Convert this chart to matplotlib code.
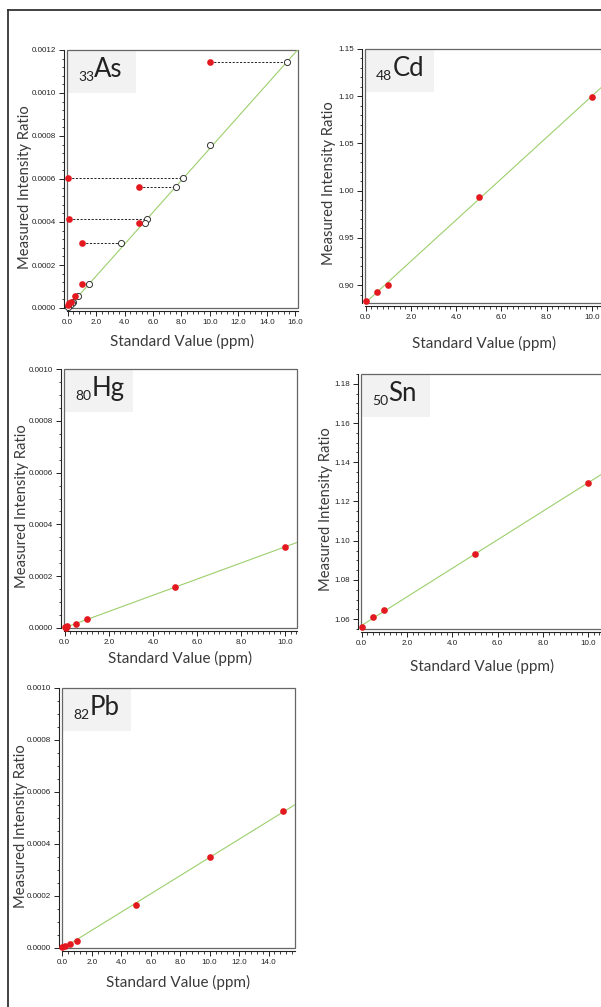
import matplotlib
matplotlib.use("Agg")
import matplotlib.pyplot as plt
import numpy as np
from matplotlib.patches import Rectangle
from matplotlib.lines import Line2D
from matplotlib.ticker import MultipleLocator, AutoMinorLocator, FormatStrFormatter

# ---------------------------------------------------------------------------
# Data
# ---------------------------------------------------------------------------

# 33As: measured points (red) and their projections on the calibration line (open)
as_meas_x = [10.0, 0.0, 5.0, 0.1, 5.0, 1.0, 1.0, 0.5, 0.2, 0.1, 0.0]
as_meas_y = [0.001144, 0.000604, 0.000564, 0.000415, 0.000396, 0.000300,
             0.000110, 0.000058, 0.000029, 0.000022, 0.000014]
as_cal_x = [15.4, 8.1, 7.65, 5.56, 5.45, 3.75, 1.48, 0.72, 0.35, 0.3, 0.15]
as_std_x = [10.0, 0.0]
as_std_y = [0.000756, 0.000004]

# 48Cd
cd_x = [0.0, 0.5, 1.0, 5.0, 10.0]
cd_y = [0.883, 0.8926, 0.900, 0.9935, 1.099]

# 80Hg
hg_x = [0.0, 0.05, 0.1, 0.5, 1.0, 5.0, 10.0]
hg_y = [0.000002, 0.000001, 0.000007, 0.0000155, 0.000033, 0.000157, 0.000314]

# 50Sn
sn_x = [0.0, 0.5, 1.0, 5.0, 10.0]
sn_y = [1.0559, 1.0610, 1.0646, 1.0932, 1.1295]

# 82Pb
pb_x = [0.0, 0.15, 0.5, 1.0, 5.0, 10.0, 15.0]
pb_y = [0.000003, 0.000009, 0.000017, 0.000027, 0.000165, 0.000349, 0.000526]

# ---------------------------------------------------------------------------
# Style
# ---------------------------------------------------------------------------

W, H = 601, 1007
RED = "#e3191f"
GREEN = "#9ccf6c"
TEXT = "#3a3a3a"
BOX = "#f2f2f2"
LABEL_FONT = ["Lato", "DejaVu Sans"]
TICK_FONT = ["Liberation Sans Narrow", "Liberation Sans", "DejaVu Sans"]

fig = plt.figure(figsize=(W / 100, H / 100), dpi=100)


def make_axes(l, t, r, b):
    return fig.add_axes([l / W, 1 - b / H, (r - l) / W, (b - t) / H])


def style_axes(ax, box_px, xlim, ylim, xmajor, xminor, ymajor, yminor, yfmt,
               element, mass, xlab_off, ylab_off):
    l, t, r, b = box_px
    aw, ah = r - l, b - t
    ax.set_xlim(*xlim)
    ax.set_ylim(*ylim)
    ax.set_facecolor("white")
    for s in ("top", "right"):
        ax.spines[s].set_visible(False)
    for s in ("left", "bottom"):
        ax.spines[s].set_position(("outward", 2))
        ax.spines[s].set_linewidth(0.8)
        ax.spines[s].set_color("#222222")
    ax.add_patch(Rectangle((0, 0), 1, 1, transform=ax.transAxes, fill=False,
                           edgecolor="#666666", linewidth=0.9, clip_on=False, zorder=1))

    ax.xaxis.set_major_locator(MultipleLocator(xmajor))
    ax.xaxis.set_minor_locator(AutoMinorLocator(xminor))
    ax.yaxis.set_major_locator(MultipleLocator(ymajor))
    ax.yaxis.set_minor_locator(AutoMinorLocator(yminor))
    ax.xaxis.set_major_formatter(FormatStrFormatter("%.1f"))
    ax.yaxis.set_major_formatter(FormatStrFormatter(yfmt))
    ax.tick_params(which="major", length=3.5, width=0.7, color="#222222",
                   labelsize=5.8, labelcolor="#222222", pad=2.5)
    ax.tick_params(which="minor", length=1.8, width=0.6, color="#222222")
    for lab in ax.get_xticklabels() + ax.get_yticklabels():
        lab.set_family(TICK_FONT)

    ax.set_xlabel("Standard Value (ppm)", fontsize=11, color=TEXT, family=LABEL_FONT)
    ax.set_ylabel("Measured Intensity Ratio", fontsize=10.6, color=TEXT, family=LABEL_FONT)
    # offsets are to the label centre; labels are anchored on their inner edge
    ax.xaxis.set_label_coords(0.5, -(xlab_off - 7) / ah)
    ax.yaxis.set_label_coords(-(ylab_off - 7) / aw, 0.47)

    # element tag in the upper left corner
    ax.add_patch(Rectangle((0, 1 - 43 / ah), 69 / aw, 43 / ah, transform=ax.transAxes,
                           facecolor=BOX, edgecolor="none", zorder=0.5))
    t1 = ax.text(11 / aw, 1 - 31 / ah, mass, transform=ax.transAxes, fontsize=10,
                 color="#222222", family=LABEL_FONT, va="baseline", ha="left", zorder=5)
    ax.annotate(element, xy=(1, 0), xycoords=t1, xytext=(0.2, 4.6),
                textcoords="offset points", fontsize=18.5, color="#222222",
                family=LABEL_FONT, va="baseline", ha="left", zorder=5)


def fit_line(ax, xs, ys, x0, x1):
    k, c = np.polyfit(xs, ys, 1)
    xx = np.array([x0, x1])
    ax.plot(xx, k * xx + c, color=GREEN, linewidth=0.8, zorder=2)


def red_points(ax, xs, ys):
    ax.plot(xs, ys, "o", color=RED, markersize=4.8, markeredgewidth=0,
            clip_on=False, zorder=4)


# ---------------------------------------------------------------------------
# 33As
# ---------------------------------------------------------------------------
box = (67, 50, 298, 308)
ax = make_axes(*box)
xlim = (-0.05, 16.2)
cal_x = as_cal_x + as_std_x
cal_y = as_meas_y + as_std_y
k, c = np.polyfit(cal_x, cal_y, 1)
xx = np.array([0.0, xlim[1]])
ax.plot(xx, k * xx, color=GREEN, linewidth=0.8, zorder=2)
for mx, cx, y in zip(as_meas_x, as_cal_x, as_meas_y):
    ax.plot([mx, cx], [y, y], color="#222222", linewidth=0.7,
            linestyle=(0, (2.2, 1.6)), zorder=3)
ax.plot(cal_x, cal_y, "o", markerfacecolor="white", markeredgecolor="#333333",
        markersize=4.4, markeredgewidth=0.7, clip_on=False, zorder=3.5)
red_points(ax, as_meas_x, as_meas_y)
style_axes(ax, box, xlim, (0, 0.0012), 2.0, 5, 0.0002, 5, "%.4f",
           "As", "33", 33, 42)

# ---------------------------------------------------------------------------
# 48Cd
# ---------------------------------------------------------------------------
box = (365, 49, 604, 303)
ax = make_axes(*box)
xlim = (-0.03, 10.54)
fit_line(ax, cd_x, cd_y, 0.0, xlim[1])
red_points(ax, cd_x, cd_y)
style_axes(ax, box, xlim, (0.881, 1.15), 2.0, 8, 0.05, 5, "%.2f",
           "Cd", "48", 40, 36)

# ---------------------------------------------------------------------------
# 80Hg
# ---------------------------------------------------------------------------
box = (64, 369, 297, 628)
ax = make_axes(*box)
xlim = (-0.03, 10.53)
fit_line(ax, hg_x, hg_y, 0.0, xlim[1])
red_points(ax, hg_x, hg_y)
style_axes(ax, box, xlim, (0, 0.0010), 2.0, 8, 0.0002, 4, "%.4f",
           "Hg", "80", 30, 42)

# ---------------------------------------------------------------------------
# 50Sn
# ---------------------------------------------------------------------------
box = (361, 374, 604, 629)
ax = make_axes(*box)
xlim = (-0.03, 10.70)
fit_line(ax, sn_x, sn_y, 0.0, xlim[1])
red_points(ax, sn_x, sn_y)
style_axes(ax, box, xlim, (1.055, 1.185), 2.0, 8, 0.02, 4, "%.2f",
           "Sn", "50", 37, 35)

# ---------------------------------------------------------------------------
# 82Pb
# ---------------------------------------------------------------------------
box = (62, 688, 295, 948)
ax = make_axes(*box)
xlim = (-0.03, 15.8)
fit_line(ax, pb_x, pb_y, 0.0, xlim[1])
red_points(ax, pb_x, pb_y)
style_axes(ax, box, xlim, (0, 0.0010), 2.0, 5, 0.0002, 4, "%.4f",
           "Pb", "82", 34, 41)

# outer frame (only top and left edges are visible in the crop)
fig.add_artist(Line2D([8 / W, 8 / W], [0, 1 - 10 / H], color="#333333", linewidth=1.3))
fig.add_artist(Line2D([8 / W, 1], [1 - 10 / H, 1 - 10 / H], color="#333333", linewidth=1.3))

fig.savefig("out.png", dpi=100)
